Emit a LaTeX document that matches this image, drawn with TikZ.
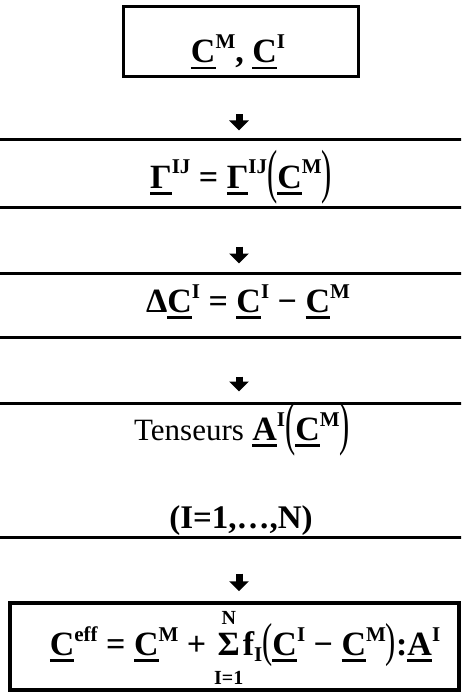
\documentclass[tikz,border=0pt]{standalone}
\usepackage{fontspec}
\usepackage{graphicx}
\setmainfont{Liberation Serif}
\usetikzlibrary{arrows.meta}
\newcommand\ub[1]{{\setbox0=\hbox{#1}\rlap{\rule[-6.5pt]{\wd0}{2.4pt}}\box0}}
\newcommand\Sup[1]{\raisebox{14pt}{\fontsize{21}{21}\selectfont\bfseries #1}}
\newcommand\Sub[1]{\raisebox{-6pt}{\fontsize{21}{21}\selectfont\bfseries #1}}
\newcommand\Lp[2]{\raisebox{#2}{\scalebox{0.9}[#1]{\mdseries(}}}
\newcommand\Rp[2]{\raisebox{#2}{\scalebox{0.9}[#1]{\mdseries)}}}
\newcommand\limf{\fontsize{20}{20}\selectfont\bfseries}
\newcommand\Sumlim{\mbox{\makebox[0pt][l]{\makebox[28pt][c]{\raisebox{31pt}{\limf N}}}\makebox[0pt][l]{\makebox[28pt][c]{\raisebox{-29pt}{\limf I=1}}}\makebox[28pt][c]{Σ}}}
\tikzset{
  box/.style={draw, line width=3pt, inner sep=0pt},
  txt/.style={inner sep=0pt, anchor=base, font=\fontsize{34}{34}\selectfont\bfseries},
  arr/.style={line width=7pt, -{Triangle[width=19pt,length=10pt]}}
}
\begin{document}
\begin{tikzpicture}[x=1pt,y=-1pt]
\useasboundingbox (0,0) rectangle (461,695);
\fill[white] (0,0) rectangle (461,695);
\node[box, minimum width=235pt, minimum height=70pt] (b1) at (240.5,42) {};
\begin{scope}
\clip (0,0) rectangle (461,695);
\node[box, minimum width=490pt, minimum height=67pt] (b2) at (239,173.5) {};
\node[box, minimum width=490pt, minimum height=64pt] (b3) at (239,305) {};
\node[box, minimum width=490pt, minimum height=134pt] (b4) at (239,470) {};
\end{scope}
\node[box, line width=3.5pt, minimum width=449pt, minimum height=87pt] (b5) at (234.5,646.5) {};

\node[txt] (t1) at (238,63) {\ub{C}\Sup{M}, \ub{C}\Sup{I}};
\node[txt] (t2) at (241,188) {\ub{Γ}\Sup{IJ} = \ub{Γ}\Sup{IJ}\Lp{1.75}{-3pt}\ub{C}\Sup{M}\Rp{1.75}{-3pt}};
\node[txt] (t3) at (248,312) {Δ\ub{C}\Sup{I} = \ub{C}\Sup{I} − \ub{C}\Sup{M}};
\node[txt] (t4) at (242,440) {{\mdseries\fontsize{31}{31}\selectfont Tenseurs} \ub{A}\Sup{I}\Lp{1.75}{-3pt}\ub{C}\Sup{M}\Rp{1.75}{-3pt}};
\node[txt, font=\fontsize{33}{33}\selectfont\bfseries] (t5) at (241,528) {(I=1,\ldots,N)};
\node[txt] (t6) at (245,655) {\ub{C}\Sup{eff} = \ub{C}\Sup{M} + \Sumlim f\Sub{I}\Lp{1.4}{-1pt}\ub{C}\Sup{I} − \ub{C}\Sup{M}\Rp{1.4}{-1pt}:\ub{A}\Sup{I}};

\draw[arr, shorten <=36pt, shorten >=8pt] (b1.south -| b2.north) -- (b2.north);
\draw[arr, shorten <=38pt, shorten >=8pt] (b2.south) -- (b3.north);
\draw[arr, shorten <=38pt, shorten >=10pt] (b3.south) -- (b4.north);
\draw[arr, shorten <=35pt, shorten >=10pt] (b4.south) -- (b4.south |- b5.north);
\end{tikzpicture}
\end{document}
